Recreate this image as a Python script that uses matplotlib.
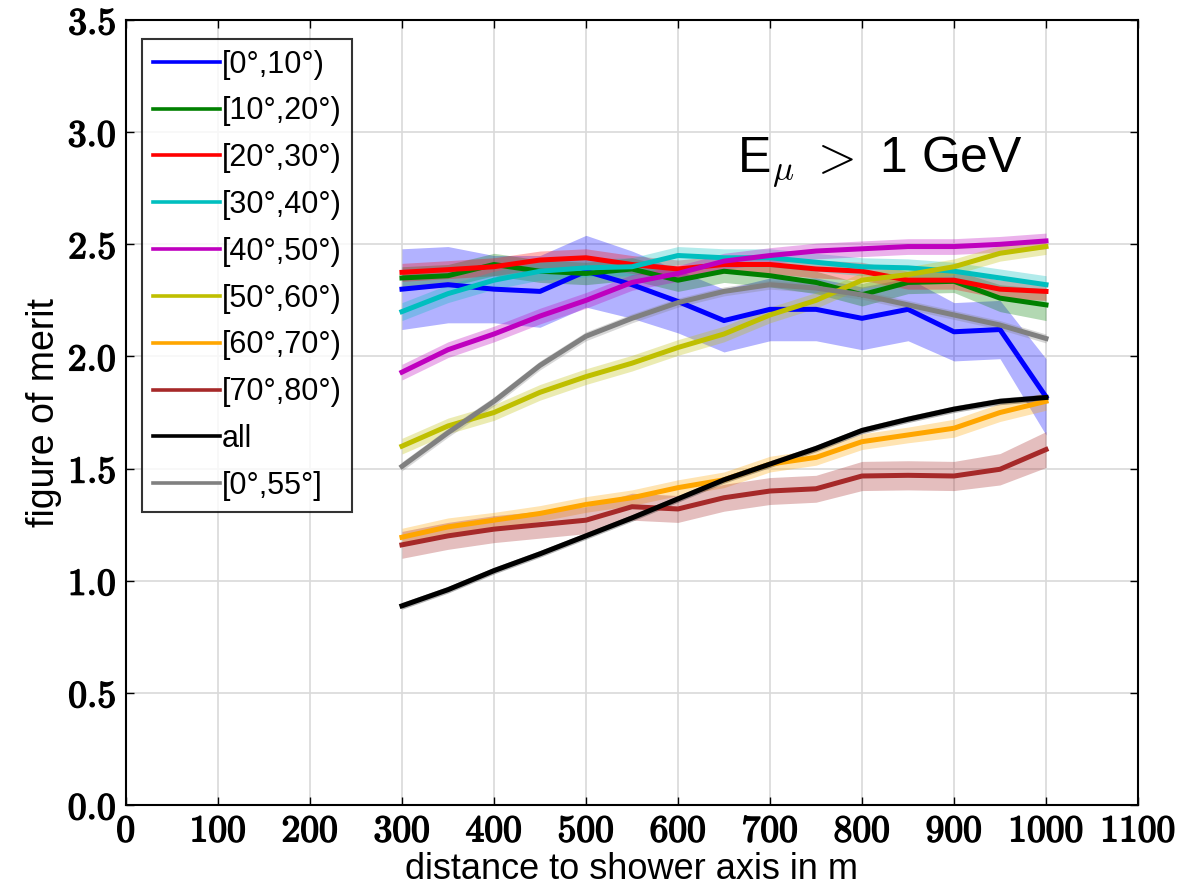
"""Figure of merit vs distance to shower axis, per zenith-angle bin (E_mu > 1 GeV)."""

import matplotlib
matplotlib.use("Agg")
import matplotlib.pyplot as plt
import matplotlib.patheffects as pe
from matplotlib.ticker import FuncFormatter, MultipleLocator
import numpy as np

plt.rcParams["mathtext.fontset"] = "cm"
plt.rcParams["font.family"] = ["Liberation Sans", "DejaVu Sans"]

distance = [300, 350, 400, 450, 500, 550, 600, 650, 700, 750, 800, 850, 900, 950, 1000]

labels = ["[0°,10°)", "[10°,20°)", "[20°,30°)", "[30°,40°)", "[40°,50°)",
          "[50°,60°)", "[60°,70°)", "[70°,80°)", "all", "[0°,55°]"]

fom_0_10 = [2.30, 2.32, 2.30, 2.29, 2.38, 2.32, 2.245, 2.16, 2.21, 2.21, 2.17, 2.21, 2.11, 2.12, 1.82]
fom_10_20 = [2.35, 2.36, 2.41, 2.38, 2.37, 2.39, 2.34, 2.38, 2.36, 2.33, 2.275, 2.33, 2.335, 2.26, 2.23]
fom_20_30 = [2.375, 2.387, 2.40, 2.43, 2.44, 2.41, 2.39, 2.41, 2.41, 2.39, 2.38, 2.34, 2.34, 2.30, 2.29]
fom_30_40 = [2.20, 2.28, 2.34, 2.38, 2.395, 2.40, 2.45, 2.44, 2.44, 2.42, 2.40, 2.395, 2.38, 2.35, 2.32]
fom_40_50 = [1.93, 2.03, 2.10, 2.18, 2.25, 2.33, 2.37, 2.425, 2.45, 2.47, 2.48, 2.49, 2.49, 2.50, 2.515]
fom_50_60 = [1.60, 1.69, 1.75, 1.84, 1.91, 1.97, 2.04, 2.10, 2.185, 2.25, 2.34, 2.365, 2.40, 2.46, 2.49]
fom_60_70 = [1.194, 1.24, 1.27, 1.30, 1.34, 1.37, 1.415, 1.45, 1.52, 1.55, 1.62, 1.65, 1.68, 1.75, 1.80]
fom_70_80 = [1.16, 1.20, 1.23, 1.25, 1.27, 1.33, 1.32, 1.37, 1.40, 1.41, 1.467, 1.47, 1.467, 1.497, 1.585]
fom_all = [0.888, 0.96, 1.045, 1.12, 1.20, 1.28, 1.365, 1.45, 1.52, 1.59, 1.67, 1.72, 1.765, 1.80, 1.817]
fom_0_55 = [1.51, 1.66, 1.80, 1.96, 2.09, 2.17, 2.24, 2.29, 2.32, 2.305, 2.275, 2.23, 2.185, 2.14, 2.08]

err_0_10 = [0.18, 0.17, 0.15, 0.16, 0.16, 0.15, 0.14, 0.14, 0.14, 0.14, 0.14, 0.14, 0.13, 0.13, 0.17]
err_10_20 = [0.05, 0.05, 0.05, 0.05, 0.05, 0.05, 0.05, 0.05, 0.05, 0.05, 0.05, 0.05, 0.05, 0.06, 0.07]
err_20_30 = [0.04] * 15
err_30_40 = [0.04] * 15
err_40_50 = [0.035] * 15
err_50_60 = [0.035] * 15
err_60_70 = [0.04, 0.04, 0.035, 0.035, 0.035, 0.035, 0.035, 0.035, 0.035, 0.035, 0.035, 0.035, 0.04, 0.04, 0.04]
err_70_80 = [0.06, 0.06, 0.06, 0.06, 0.06, 0.06, 0.06, 0.06, 0.06, 0.06, 0.065, 0.065, 0.065, 0.07, 0.08]
err_all = [0.015] * 15
err_0_55 = [0.02] * 15

series = [fom_0_10, fom_10_20, fom_20_30, fom_30_40, fom_40_50,
          fom_50_60, fom_60_70, fom_70_80, fom_all, fom_0_55]
errors = [err_0_10, err_10_20, err_20_30, err_30_40, err_40_50,
          err_50_60, err_60_70, err_70_80, err_all, err_0_55]
colors = [(0, 0, 1), (0, 0.5, 0), (1, 0, 0), (0, 0.75, 0.75), (0.75, 0, 0.75),
          (0.75, 0.75, 0), (1, 0.65, 0), (0.65, 0.16, 0.16), (0, 0, 0), (0.5, 0.5, 0.5)]

fig = plt.figure(figsize=(11.95, 8.86), dpi=100)
ax = fig.add_axes([0.1054, 0.0914, 0.8469, 0.886])

x = np.array(distance)
handles = []
for y, e, c, lab in zip(series, errors, colors, labels):
    y = np.array(y)
    e = np.array(e)
    ax.fill_between(x, y - e, y + e, color=c, alpha=0.3, lw=0)
    h, = ax.plot(x, y, color=c, lw=3.6, label=lab)
    handles.append(h)

ax.set_xlim(0, 1100)
ax.set_ylim(0, 3.5)
ax.xaxis.set_major_locator(MultipleLocator(100))
ax.yaxis.set_major_locator(MultipleLocator(0.5))
ax.xaxis.set_major_formatter(FuncFormatter(lambda v, p: r"$\mathbf{%d}$" % round(v)))
ax.yaxis.set_major_formatter(FuncFormatter(lambda v, p: r"$\mathbf{%.1f}$" % v))
ax.tick_params(axis="both", which="major", direction="in", length=6, width=1,
               labelsize=27, top=True, right=True)
ax.tick_params(axis="x", pad=6)
ax.tick_params(axis="y", pad=7)
ax.grid(True, color=(0.85, 0.85, 0.85), lw=1.2)
ax.set_axisbelow(True)
for sp in ax.spines.values():
    sp.set_linewidth(1.5)

ax.set_xlabel("distance to shower axis in m", fontsize=26, labelpad=2)
ax.set_ylabel("figure of merit", fontsize=27, labelpad=4)

leg = ax.legend(handles=handles, loc="upper left", bbox_to_anchor=(0.0158, 0.976),
                fontsize=22, frameon=True, fancybox=False, edgecolor="black",
                handlelength=2.2, handletextpad=0.05, labelspacing=0.55,
                borderpad=0.35, borderaxespad=0.0)
leg.get_frame().set_linewidth(1.5)
for line in leg.get_lines():
    line.set_linewidth(2.6)

ax.text(664, 2.826, r"E$_{\mu}\;>$ 1 GeV", fontsize=36, ha="left", va="baseline")

# thicken the computer-modern tick digits so they read as heavy bold
fig.canvas.draw()
bold = [pe.withStroke(linewidth=1.1, foreground="black")]
for t in ax.get_xticklabels() + ax.get_yticklabels():
    t.set_path_effects(bold)

fig.savefig("out.png", dpi=100)
